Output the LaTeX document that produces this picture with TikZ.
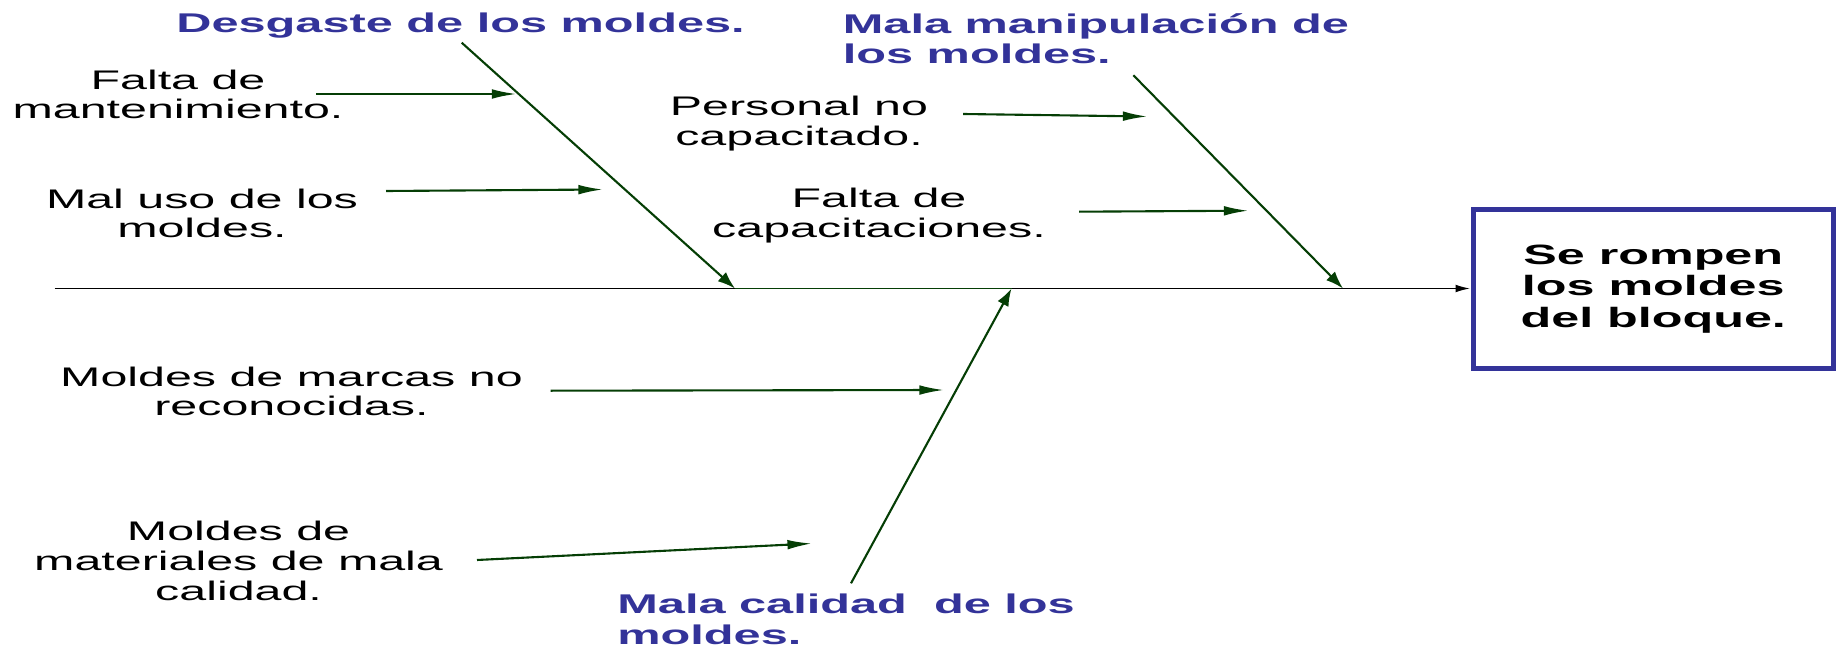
\documentclass[tikz,border=0pt]{standalone}
\usepackage{fontspec}
\setmainfont{Liberation Sans}[FakeStretch=1.8]
\usetikzlibrary{arrows.meta}
\definecolor{bonegreen}{RGB}{5,62,5}
\definecolor{hblue}{RGB}{51,51,153}
\begin{document}
\begin{tikzpicture}[x=0.02cm,y=-0.02cm,
  cause/.style={font=\fontsize{15.3}{17}\selectfont, align=center, inner sep=0pt, anchor=base},
  head/.style={font=\fontsize{15.4}{17.1}\selectfont\bfseries, text=hblue, align=left, inner sep=0pt, anchor=base west},
  effect/.style={draw=hblue, line width=2.85pt, minimum width=7.21cm, minimum height=3.18cm, inner sep=0pt,
    font=\fontsize{15.9}{17.8}\selectfont\bfseries, align=center},
  smallarrow/.style={draw=bonegreen, line width=1.2pt, -{Latex[length=14pt,width=5.5pt]}},
  bonearrow/.style={draw=bonegreen, line width=1.2pt, -{Latex[length=10pt,width=7pt]}},
  spinearrow/.style={draw=black, line width=1.1pt, -{Latex[length=8.5pt,width=4.4pt]}}]
\useasboundingbox (0,0) rectangle (1838,651);
% effect
\node[effect] (eff) at (1653.25,289) {Se rompen\\los moldes\\del bloque.};
% spine
\coordinate (s0) at (54.6,288.5);
\draw[spinearrow] (s0) -- (eff.west |- s0);
% bone coordinates
\coordinate (d0) at (461.7,42.7);
\coordinate (d1) at (735,288.5);
\coordinate (m0) at (1133.4,75.3);
\coordinate (m1) at (1343,288.5);
\coordinate (c0) at (851,583.3);
\coordinate (c1) at (1011.5,288.5);
\draw[draw=bonegreen, line width=1.1pt] (d1) -- (c1);
\draw[bonearrow] (d0) -- (d1);
\draw[bonearrow] (m0) -- (m1);
\draw[bonearrow] (c0) -- (c1);
% headings (anchor = baseline of last line)
\node[head] (hd) at (176,32.3) {Desgaste de los moldes.};
\node[head] (hm) at (842.5,63.3) {Mala manipulación de\\los moldes.};
\node[head] (hc) at (617,644) {Mala calidad~ de los\\moldes.};
% causes (anchor = baseline of last line)
\node[cause] (fm) at (178,119) {Falta de\\mantenimiento.};
\node[cause] (mu) at (202,238) {Mal uso de los\\moldes.};
\node[cause] (pn) at (799,145.7) {Personal no\\capacitado.};
\node[cause] (fc) at (879,237.7) {Falta de\\capacitaciones.};
\node[cause] (mm) at (291.5,416) {Moldes de marcas no\\reconocidas.};
\node[cause] (mt) at (238.6,600) {Moldes de\\materiales de mala\\calidad.};
% cause arrows
\coordinate (fm0) at (316,94);   \coordinate (fm1) at (516.5,94);
\coordinate (mu0) at (386,191);  \coordinate (mu1) at (603,189.5);
\coordinate (pn0) at (963,114);  \coordinate (pn1) at (1147.5,116.5);
\coordinate (fc0) at (1079,211.7); \coordinate (fc1) at (1248.5,210.7);
\coordinate (mm0) at (550.7,390.7); \coordinate (mm1) at (944,390);
\coordinate (mt0) at (477,560);  \coordinate (mt1) at (812,543.5);
\draw[smallarrow] (fm0) -- (fm1);
\draw[smallarrow] (mu0) -- (mu1);
\draw[smallarrow] (pn0) -- (pn1);
\draw[smallarrow] (fc0) -- (fc1);
\draw[smallarrow] (mm0) -- (mm1);
\draw[smallarrow] (mt0) -- (mt1);
\end{tikzpicture}
\end{document}
